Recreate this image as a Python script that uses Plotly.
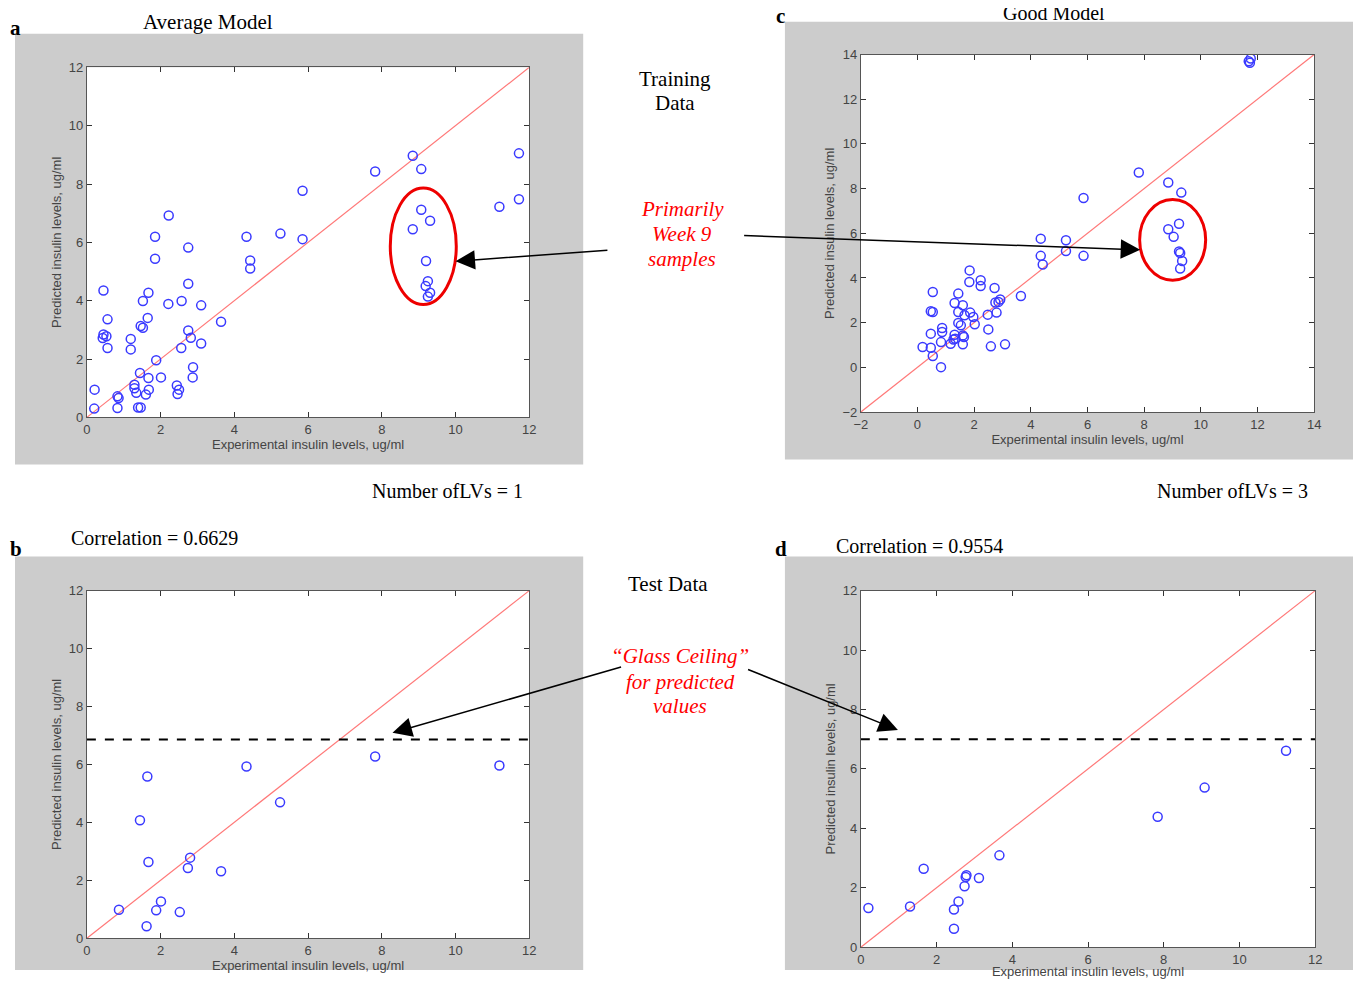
import plotly.graph_objects as go

# ---------------- data ----------------
# (a) training data, 1 latent variable
a_exp = [0.21, 0.2, 0.45, 0.56, 0.45, 0.53, 0.56, 0.43, 0.83, 0.86, 0.83, 1.19, 1.19,
         1.29, 1.29, 1.34, 1.39, 1.46, 1.44, 1.46, 1.52, 1.52, 1.65, 1.67, 1.67, 1.68,
         1.6, 1.85, 1.85, 1.88, 2.01, 2.22, 2.21, 2.57, 2.56, 2.44, 2.5, 2.46, 2.75,
         2.75, 2.75, 2.82, 2.88, 2.87, 3.1, 3.1, 3.64, 4.33, 4.43, 4.43, 5.25, 5.85,
         5.85, 7.82, 8.84, 9.07, 9.07, 9.31, 8.84, 9.2, 9.25, 9.19, 9.31, 9.25, 11.19,
         11.72, 11.72]
a_pred = [0.95, 0.3, 4.35, 3.36, 2.84, 2.78, 2.38, 2.72, 0.72, 0.66, 0.32, 2.69, 2.33,
          1.12, 1.0, 0.84, 0.34, 0.34, 1.52, 3.13, 3.07, 3.99, 3.41, 4.27, 1.35, 0.95,
          0.78, 6.19, 5.44, 1.96, 1.37, 6.92, 3.89, 3.99, 2.38, 1.09, 0.95, 0.8, 5.82,
          4.58, 2.98, 2.73, 1.72, 1.37, 2.53, 3.84, 3.28, 6.19, 5.38, 5.1, 6.3, 7.77,
          6.11, 8.43, 8.97, 8.51, 7.12, 6.74, 6.45, 5.36, 4.67, 4.5, 4.27, 4.14, 7.22,
          9.05, 7.48]

# (c) training data, 3 latent variables
c_exp = [11.69, 11.73, 11.76, 7.81, 8.85, 9.31, 5.86, 9.23, 8.85, 9.04, 9.23, 9.27, 9.34,
         9.27, 4.35, 5.24, 5.24, 5.86, 4.35, 4.42, 3.65, 1.84, 1.83, 2.23, 2.23, 2.72,
         0.54, 1.44, 2.92, 2.86, 2.75, 1.31, 1.6, 0.47, 0.54, 1.44, 2.79, 1.86, 2.48,
         1.66, 1.97, 1.44, 2.02, 1.53, 2.5, 0.87, 0.47, 0.87, 1.31, 1.6, 1.64, 1.27,
         0.83, 1.17, 1.6, 0.18, 0.47, 2.59, 3.09, 0.54, 0.83, 1.33]
c_pred = [13.7, 13.63, 13.82, 8.72, 8.27, 7.82, 7.58, 6.43, 6.18, 5.84, 5.19, 5.12, 4.76,
          4.42, 5.76, 5.69, 5.21, 4.99, 4.99, 4.6, 3.19, 4.34, 3.82, 3.9, 3.64, 3.55,
          3.37, 3.3, 3.04, 2.93, 2.9, 2.88, 2.78, 2.51, 2.48, 2.48, 2.45, 2.45, 2.36,
          2.33, 2.25, 1.99, 1.93, 1.88, 1.7, 1.76, 1.51, 1.58, 1.46, 1.43, 1.36, 1.25,
          1.13, 1.06, 1.03, 0.91, 0.88, 0.94, 1.03, 0.51, 0.01, 1.28]

# (b) test data, 1 latent variable
b_exp = [0.87, 1.62, 1.88, 2.01, 2.52, 1.44, 1.64, 1.67, 2.74, 2.8, 3.64, 4.33, 5.24, 7.82, 11.19]
b_pred = [0.98, 0.41, 0.96, 1.27, 0.9, 4.07, 5.58, 2.63, 2.42, 2.78, 2.31, 5.93, 4.69, 6.27, 5.96]

# (d) test data, 3 latent variables
d_exp = [0.2, 1.3, 1.66, 2.46, 2.58, 2.46, 2.74, 2.77, 2.79, 3.12, 3.66, 7.84, 9.08, 11.23]
d_pred = [1.32, 1.37, 2.64, 1.27, 1.54, 0.62, 2.05, 2.36, 2.42, 2.33, 3.09, 4.39, 5.37, 6.61]

# "glass ceiling" levels
ceiling_b = 6.86
ceiling_d = 7.0

axis_range_ac = [[0, 12], [-2, 14]]
axis_range_bd = [0, 12]
x_title = "Experimental insulin levels, ug/ml"
y_title = "Predicted insulin levels, ug/ml"

# ---------------- layout helpers ----------------
# page body keeps its default 8px margin, so the figure is 16px smaller than the window
OFF = 8
W, H = 1368 - 2 * OFF, 987 - 2 * OFF
# correction for the measured placement of the page within the captured picture
SX, OX = 0.991, 6.1
SY, OY = 0.982, 8.4


def page_x(x):
    return (x - OX) / SX


def page_y(y):
    return (y - OY) / SY


def px(x):
    return min(max((page_x(x) - OFF) / W, 0.0), 1.0)


def py(y):
    return min(max(1 - (page_y(y) - OFF) / H, 0.0), 1.0)


def px_free(x):
    return (page_x(x) - OFF) / W


def py_free(y):
    return 1 - (page_y(y) - OFF) / H


SERIF = "Liberation Serif"
SANS = "Liberation Sans"
MARK = dict(symbol="circle-open", size=9, color="#3a3aff", line=dict(width=1.5))
DIAG = dict(color="#ff7878", width=1.2)
GREYTXT = "#444444"

panels = [
    dict(n="", xs=a_exp, ys=a_pred, rng=axis_range_ac[0], dx=[86, 529], dy=[418, 68.5],
         bg=[10, 35, 583, 465], ceil=None),
    dict(n="2", xs=c_exp, ys=c_pred, rng=axis_range_ac[1], dx=[861, 1315], dy=[412.7, 55.7],
         bg=[785, 23, 1368, 460], ceil=None),
    dict(n="3", xs=b_exp, ys=b_pred, rng=axis_range_bd, dx=[86, 529], dy=[938, 591],
         bg=[10, 557, 583, 985], ceil=ceiling_b),
    dict(n="4", xs=d_exp, ys=d_pred, rng=axis_range_bd, dx=[861, 1316], dy=[947, 591],
         bg=[785, 557, 1368, 987], ceil=ceiling_d),
]

fig = go.Figure()
shapes = []
layout_axes = {}

for p in panels:
    n = p["n"]
    xa, ya = "x" + n, "y" + n
    rng = p["rng"]
    # grey figure background + white axes background
    shapes.append(dict(type="rect", xref="paper", yref="paper", layer="below",
                       x0=px(p["bg"][0]), x1=px(p["bg"][2]), y0=py(p["bg"][3]), y1=py(p["bg"][1]),
                       fillcolor="#cccccc", line=dict(width=0)))
    shapes.append(dict(type="rect", xref=xa + " domain", yref=ya + " domain", layer="below",
                       x0=0, x1=1, y0=0, y1=1, fillcolor="white", line=dict(width=0)))
    # identity line
    fig.add_trace(go.Scatter(x=rng, y=rng, mode="lines", line=DIAG, xaxis=xa, yaxis=ya,
                             showlegend=False, hoverinfo="skip"))
    # data points
    fig.add_trace(go.Scatter(x=p["xs"], y=p["ys"], mode="markers", marker=MARK,
                             xaxis=xa, yaxis=ya, showlegend=False))
    if p["ceil"] is not None:
        fig.add_trace(go.Scatter(x=rng, y=[p["ceil"], p["ceil"]], mode="lines",
                                 line=dict(color="black", width=2, dash="dash"),
                                 xaxis=xa, yaxis=ya, showlegend=False, hoverinfo="skip"))
    common = dict(range=rng, tickmode="linear", tick0=rng[0], dtick=2, showline=True,
                  linecolor="#555555", linewidth=1, mirror="ticks", ticks="inside", ticklen=5,
                  tickcolor="#333333", showgrid=False, zeroline=False,
                  tickfont=dict(family=SANS, size=13, color=GREYTXT))
    layout_axes["xaxis" + n] = dict(common, domain=[px(p["dx"][0]), px(p["dx"][1])], anchor=ya,
                                    title=dict(text=x_title, standoff=3,
                                               font=dict(family=SANS, size=13, color=GREYTXT)))
    layout_axes["yaxis" + n] = dict(common, domain=[py(p["dy"][0]), py(p["dy"][1])], anchor=xa,
                                    title=dict(text=y_title, standoff=4,
                                               font=dict(family=SANS, size=13, color=GREYTXT)))

# red ellipses around week 9 samples
shapes.append(dict(type="circle", xref="x", yref="y", x0=8.23, x1=10.02, y0=3.87, y1=7.86,
                   line=dict(color="#ee0000", width=3)))
shapes.append(dict(type="circle", xref="x2", yref="y2", x0=7.84, x1=10.17, y0=3.9, y1=7.51,
                   line=dict(color="#ee0000", width=3)))

annotations = []


def txt(t, x, y, size=21, color="black", bold=False, italic=False, yfix=None):
    s = t
    if bold:
        s = "<b>" + s + "</b>"
    if italic:
        s = "<i>" + s + "</i>"
    yy = py_free(y) if yfix is None else yfix
    annotations.append(dict(text=s, xref="paper", yref="paper", x=px_free(x), y=yy,
                            xanchor="center", yanchor="middle", showarrow=False,
                            font=dict(family=SERIF, size=size, color=color)))


txt("a", 15, 29, size=21, bold=True)
txt("Average Model", 207, 23)
# texts at the very top edge, placed in page pixels
txt("c", 781, 0, size=21, bold=True, yfix=1 - (9 - OFF) / H)
txt("Good Model", 1054, 0, size=20, yfix=1 - (6 - OFF) / H)
txt("Number ofLVs = 1", 447, 492, size=20)
txt("Number ofLVs = 3", 1233, 492, size=20)
txt("b", 15, 549, size=21, bold=True)
txt("Correlation = 0.6629", 154, 538, size=20)
txt("d", 781, 549, size=21, bold=True)
txt("Correlation = 0.9554", 920, 546, size=20)
txt("Training", 675, 80)
txt("Data", 675, 104)
txt("Test Data", 668, 584)
for t, y in [("Primarily", 210), ("Week 9", 235), ("samples", 260)]:
    txt(t, 682, y, color="#ff0000", italic=True)
for t, y in [("\u201cGlass Ceiling\u201d", 656), ("for predicted", 682), ("values", 706)]:
    txt(t, 680, y, color="#ff0000", italic=True)


def arrow(x, y, xref, yref, ax, ay):
    annotations.append(dict(text="", x=x, y=y, xref=xref, yref=yref, ax=ax / SX, ay=ay / SY,
                            axref="pixel", ayref="pixel", showarrow=True, arrowhead=2,
                            arrowsize=2.6, arrowwidth=1.5, arrowcolor="black", standoff=0))


arrow(10.0, 5.35, "x", "y", 152, -11)
arrow(7.86, 5.26, "x2", "y2", -394, -14)
arrow(8.29, 7.09, "x3", "y3", 228, -65)
arrow(0.98, 7.31, "x4", "y4", -150, -60)

fig.update_layout(width=W, height=H, margin=dict(l=0, r=0, t=0, b=0), autosize=False,
                  paper_bgcolor="white", plot_bgcolor="rgba(0,0,0,0)",
                  shapes=shapes, annotations=annotations, **layout_axes)

fig.write_html("out.html", config=dict(displayModeBar=False, responsive=False))
